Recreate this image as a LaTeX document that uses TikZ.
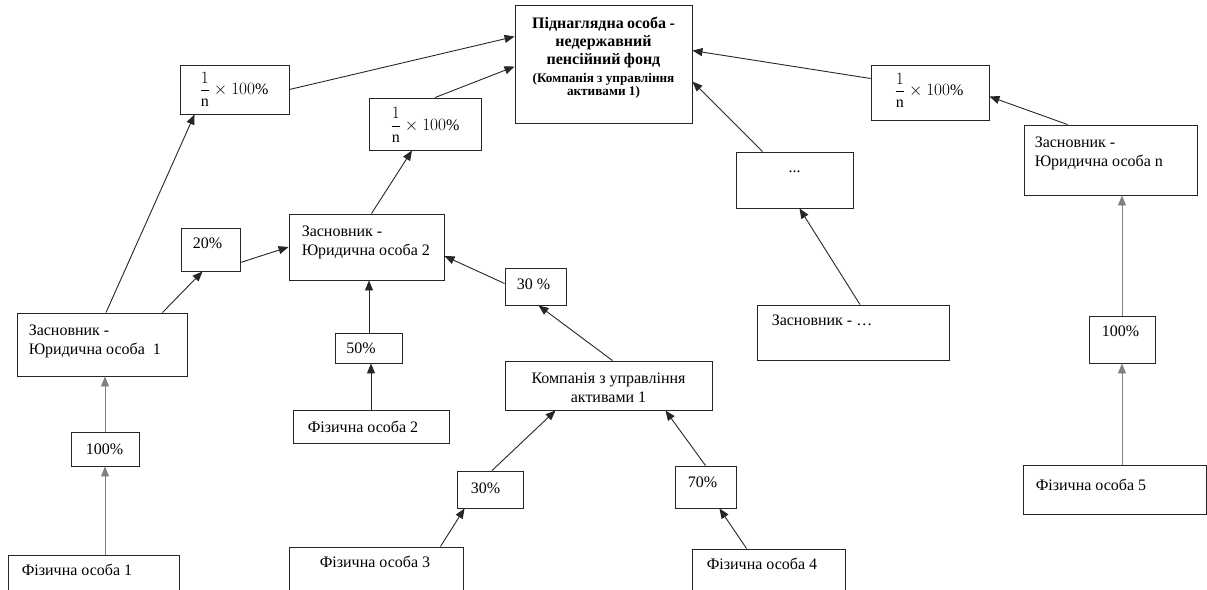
\documentclass[tikz,border=0pt]{standalone}
\usepackage{fontspec}
\setmainfont{Liberation Serif}
\usetikzlibrary{arrows.meta,calc}
\newcommand\bodyfont{\fontsize{16}{19}\selectfont}
\newcommand\fracpct{$\displaystyle\frac{1}{\mathrm{n}}\times 100\%$}
\newcommand\maintext{\fontsize{16}{18}\selectfont Піднаглядна особа -\\недержавний\\пенсійний фонд\par\vskip 3pt\fontsize{13.2}{15}\selectfont (Компанія з управління\\активами 1)}
\begin{document}
\begin{tikzpicture}[x=1pt,y=-1pt,
  box/.style={draw=black!85, line width=0.9pt, inner sep=0pt, rectangle},
  conn/.style={draw=black!85, line width=0.9pt, -{Triangle[length=10pt,width=8pt]}},
  gconn/.style={conn, draw=black!50},
  tl/.style={anchor=north west, inner sep=0pt, align=left, font=\bodyfont, text=black},
  fr/.style={anchor=west, inner sep=0pt, font=\fontsize{16}{18}\selectfont},
  pct/.style={anchor=north west, inner sep=0pt, font=\bodyfont}]
\useasboundingbox (0,0) rectangle (1207,589);

% main box
\node[box, minimum width=177pt, minimum height=118pt,
  label={[anchor=north, inner sep=0pt, yshift=-12pt, text width=177pt, align=center, font=\bfseries]north:{\maintext}}] (main) at (603.5,64) {};

% fraction boxes
\node[box, minimum width=109pt, minimum height=49pt,
  label={[fr, xshift=20pt, yshift=0pt]west:{\fracpct}}] (L1) at (234.5,89.5) {};
\node[box, minimum width=112pt, minimum height=52pt,
  label={[fr, xshift=22pt, yshift=-1pt]west:{\fracpct}}] (M1) at (425,124) {};
\node[box, minimum width=118pt, minimum height=55pt,
  label={[fr, xshift=24pt, yshift=2pt]west:{\fracpct}}] (R1) at (930,92.5) {};

% dots box
\node[box, minimum width=117pt, minimum height=56pt,
  label={[anchor=base, inner sep=0pt, yshift=-21pt, font=\bodyfont]north:{...}}] (dots) at (794.5,180) {};

% founders
\node[box, minimum width=173pt, minimum height=70pt,
  label={[tl, xshift=11pt, yshift=-12pt]north west:{Засновник -\\Юридична особа n}}] (zon) at (1110.5,160) {};
\node[box, minimum width=155pt, minimum height=66pt,
  label={[tl, xshift=13pt, yshift=-12pt]north west:{Засновник -\\Юридична особа 2}}] (zo2) at (366.5,247) {};
\node[box, minimum width=170pt, minimum height=63pt,
  label={[tl, xshift=12pt, yshift=-12pt]north west:{Засновник -\\Юридична особа\ \ 1}}] (zo1) at (102,344.5) {};
\node[box, minimum width=192pt, minimum height=55pt,
  label={[tl, xshift=15pt, yshift=-10pt]north west:{Засновник - \dots}}] (zod) at (853,332.5) {};

% company
\node[box, minimum width=207pt, minimum height=49pt,
  label={[anchor=north, inner sep=0pt, yshift=-12pt, align=center, font=\bodyfont]north:{Компанія з управління\\активами 1}}] (k1) at (608.5,385.5) {};

% percentage boxes
\node[box, minimum width=59pt, minimum height=43pt,
  label={[pct, xshift=12pt, yshift=-10pt]north west:{20\%}}] (p20) at (210.5,249.5) {};
\node[box, minimum width=61pt, minimum height=37pt,
  label={[pct, xshift=12pt, yshift=-11pt]north west:{30 \%}}] (p30a) at (535.5,286.5) {};
\node[box, minimum width=67pt, minimum height=30pt,
  label={[pct, xshift=11pt, yshift=-10pt]north west:{50\%}}] (p50) at (369,348) {};
\node[box, minimum width=66pt, minimum height=47pt,
  label={[pct, xshift=13pt, yshift=-10pt]north west:{100\%}}] (p100r) at (1122,339.5) {};
\node[box, minimum width=68pt, minimum height=34pt,
  label={[pct, xshift=15pt, yshift=-12pt]north west:{100\%}}] (p100l) at (105,449) {};
\node[box, minimum width=66pt, minimum height=37pt,
  label={[pct, xshift=14pt, yshift=-12pt]north west:{30\%}}] (p30b) at (490,489.5) {};
\node[box, minimum width=61pt, minimum height=42pt,
  label={[pct, xshift=13pt, yshift=-11pt]north west:{70\%}}] (p70) at (705.5,487) {};

% natural persons
\node[box, minimum width=156pt, minimum height=33pt,
  label={[tl, xshift=15pt, yshift=-11pt]north west:{Фізична особа 2}}] (f2) at (371,426.5) {};
\node[box, minimum width=183pt, minimum height=49pt,
  label={[tl, xshift=13pt, yshift=-14pt]north west:{Фізична особа 5}}] (f5) at (1114.5,489.5) {};
\node[box, minimum width=171pt, minimum height=50pt,
  label={[tl, xshift=14pt, yshift=-9pt]north west:{Фізична особа 1}}] (f1) at (93.5,580) {};
\node[box, minimum width=174pt, minimum height=50pt,
  label={[tl, xshift=31pt, yshift=-9pt]north west:{Фізична особа 3}}] (f3) at (376,572) {};
\node[box, minimum width=153pt, minimum height=50pt,
  label={[tl, xshift=15pt, yshift=-9pt]north west:{Фізична особа 4}}] (f4) at (768.5,574) {};

% connectors
\draw[conn] (L1.east) -- ($(main.north west)+(0,32)$);
\draw[conn] ($(M1.north)+(10,0)$) -- ($(main.north west)+(0,62)$);
\draw[conn] ($(zo1.north)+(4,0)$) -- ($(L1.south west)+(15,0)$);
\draw[conn] ($(zo1.north east)+(-25,0)$) -- ($(p20.south west)+(22,0)$);
\draw[conn] ($(p20.east)+(0,13)$) -- (zo2.west);
\draw[conn] ($(zo2.north)+(5,0)$) -- ($(M1.south)+(-13,0)$);
\draw[conn] ($(p30a.west)+(0,-3)$) -- ($(zo2.east)+(0,9)$);
\draw[conn] ($(k1.north)+(4,0)$) -- ($(p30a.south)+(3,0)$);
\draw[conn] (p50.north) -- (p50.north |- zo2.south);
\draw[conn] (f2.north) -- (f2.north |- p50.south);
\draw[gconn] (p100l.south |- f1.north) -- (p100l.south);
\draw[gconn] (p100l.north) -- (p100l.north |- zo1.south);
\draw[conn] ($(p30b.north)+(2,0)$) -- ($(k1.south west)+(51,0)$);
\draw[conn] ($(f3.north east)+(-23,0)$) -- ($(p30b.south west)+(8,0)$);
\draw[conn] (p70.north) -- ($(k1.south east)+(-47,0)$);
\draw[conn] ($(f4.north west)+(55,0)$) -- ($(p70.south east)+(-17,0)$);
\draw[conn] ($(dots.north west)+(27,0)$) -- ($(main.north east)+(0,77)$);
\draw[conn] ($(zod.north)+(7,0)$) -- ($(dots.south)+(5,0)$);
\draw[conn] ($(R1.west)+(0,-14)$) -- ($(main.north east)+(0,46)$);
\draw[conn] ($(zon.north west)+(44,0)$) -- ($(R1.east)+(0,4)$);
\draw[gconn] (p100r.north) -- (p100r.north |- zon.south);
\draw[gconn] (p100r.south |- f5.north) -- (p100r.south);
\end{tikzpicture}
\end{document}
